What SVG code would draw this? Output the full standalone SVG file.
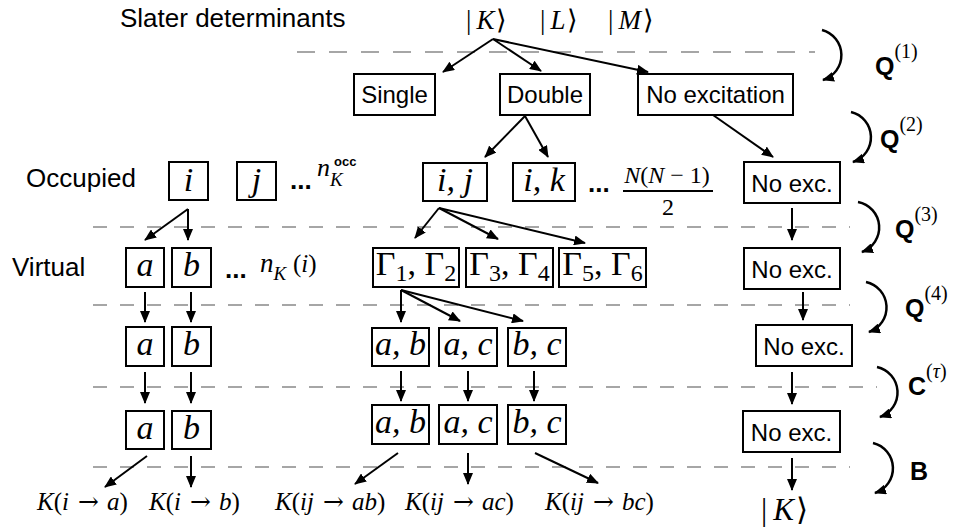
<svg xmlns="http://www.w3.org/2000/svg" width="955" height="531" viewBox="0 0 955 531">
<style>
.bg{fill:#fff}
.dash{stroke:#a6a6a6;stroke-width:2;stroke-dasharray:14 13;fill:none}
.box{fill:#fff;stroke:#000;stroke-width:2}
.sans{font-family:"Liberation Sans",Arial,sans-serif;fill:#000}
.lbl{font-family:"Liberation Sans",Arial,sans-serif;font-size:26px;fill:#000}
.bt{font-family:"Liberation Sans",Arial,sans-serif;font-size:24px;fill:#000;text-anchor:middle}
.m{font-family:"Liberation Serif","Times New Roman",serif;font-style:italic;font-size:34px;fill:#000;text-anchor:middle}
.up{font-style:normal}
.ser{font-family:"Liberation Serif","Times New Roman",serif;fill:#000}
.it{font-style:italic}
.arw{font-family:"DejaVu Serif",serif;font-style:normal}
.dots{font-family:"Liberation Sans",Arial,sans-serif;font-weight:bold;font-size:26px;fill:#000}
.q{font-family:"Liberation Sans",Arial,sans-serif;font-weight:bold;font-size:25px;fill:#000}
.sup{font-family:"Liberation Serif","Times New Roman",serif;font-weight:normal;font-size:20px}
.ar{stroke:#000;stroke-width:2;fill:none;marker-end:url(#ah)}
.cv{stroke:#000;stroke-width:2.5;fill:none;marker-end:url(#ah)}
</style>
<defs>
<marker id="ah" viewBox="0 0 12 10" refX="11" refY="5" markerWidth="12" markerHeight="10" markerUnits="userSpaceOnUse" orient="auto">
<path d="M0,0 L12,5 L0,10 z" fill="#000"/>
</marker>
</defs>
<rect class="bg" x="0" y="0" width="955" height="531"/>

<g id="separators">
<line class="dash" x1="297" y1="52" x2="815" y2="52" style="stroke-dasharray:18 14"/>
<line class="dash" x1="93" y1="227" x2="850" y2="227"/>
<line class="dash" x1="93" y1="305" x2="850" y2="305"/>
<line class="dash" x1="93" y1="387" x2="877" y2="387"/>
<line class="dash" x1="93" y1="467" x2="850" y2="467"/>
</g>

<g id="labels">
<text class="lbl" x="120" y="27">Slater determinants</text>
<text class="lbl" x="26" y="187">Occupied</text>
<text class="lbl" x="12" y="276">Virtual</text>
</g>

<g id="kets">
<text class="ser" font-size="27" x="466" y="29">|<tspan class="it" dx="5">K</tspan><tspan dx="2">⟩</tspan></text>
<text class="ser" font-size="27" x="540" y="29">|<tspan class="it" dx="5">L</tspan><tspan dx="2">⟩</tspan></text>
<text class="ser" font-size="27" x="608" y="29">|<tspan class="it" dx="5">M</tspan><tspan dx="2">⟩</tspan></text>
</g>

<g id="node-single"><rect class="box" x="354" y="74" width="81" height="41"/><text class="bt" x="394.5" y="103">Single</text></g>
<g id="node-double"><rect class="box" x="500" y="74" width="90" height="41"/><text class="bt" x="545" y="103">Double</text></g>
<g id="node-noexcitation"><rect class="box" x="638" y="74" width="155" height="41"/><text class="bt" x="715.5" y="103">No excitation</text></g>

<g id="node-i"><rect class="box" x="169" y="162" width="39" height="38"/><text class="m" x="188.5" y="191">i</text></g>
<g id="node-j"><rect class="box" x="237" y="162" width="39" height="38"/><text class="m" x="256.5" y="191">j</text></g>
<g id="nocc">
<text class="dots" x="290" y="189">...</text>
<text class="ser it" font-size="26" x="317" y="176">n<tspan font-size="19" dy="10">K</tspan></text>
<text class="sans" font-weight="bold" font-size="13" x="334" y="166">occ</text>
</g>

<g id="node-ij"><rect class="box" x="423" y="163" width="64" height="38"/><text class="m" x="455" y="191">i, j</text></g>
<g id="node-ik"><rect class="box" x="513" y="163" width="62" height="38"/><text class="m" x="544" y="191">i, k</text></g>
<g id="npairs">
<text class="dots" x="588" y="192">...</text>
<text class="ser" font-size="24" x="667" y="183" text-anchor="middle"><tspan class="it">N</tspan>(<tspan class="it">N</tspan> − 1)</text>
<line x1="623" y1="191" x2="713" y2="191" stroke="#000" stroke-width="2"/>
<text class="ser" font-size="24" x="668" y="215" text-anchor="middle">2</text>
</g>

<g id="node-noexc1"><rect class="box" x="744" y="162" width="96" height="41"/><text class="bt" x="792" y="192">No exc.</text></g>

<g id="node-a1"><rect class="box" x="126" y="248" width="38" height="39"/><text class="m" x="145" y="276">a</text></g>
<g id="node-b1"><rect class="box" x="172" y="248" width="39" height="39"/><text class="m" x="191.5" y="276">b</text></g>
<g id="nvirt">
<text class="dots" x="225" y="278">...</text>
<text class="ser it" font-size="27" x="260" y="272">n<tspan font-size="19" dy="8">K</tspan></text>
<text class="ser" font-size="25" x="293" y="272">(<tspan class="it">i</tspan>)</text>
</g>

<g id="node-g12"><rect class="box" x="373" y="248" width="86" height="39"/><text class="m up" x="416" y="275">Γ<tspan font-size="24" dy="6">1</tspan><tspan dy="-6">, Γ</tspan><tspan font-size="24" dy="6">2</tspan></text></g>
<g id="node-g34"><rect class="box" x="466" y="248" width="87" height="39"/><text class="m up" x="509.5" y="275">Γ<tspan font-size="24" dy="6">3</tspan><tspan dy="-6">, Γ</tspan><tspan font-size="24" dy="6">4</tspan></text></g>
<g id="node-g56"><rect class="box" x="559" y="248" width="87" height="39"/><text class="m up" x="602.5" y="275">Γ<tspan font-size="24" dy="6">5</tspan><tspan dy="-6">, Γ</tspan><tspan font-size="24" dy="6">6</tspan></text></g>

<g id="node-noexc2"><rect class="box" x="744" y="248" width="96" height="41"/><text class="bt" x="792" y="278">No exc.</text></g>

<g id="node-a2"><rect class="box" x="126" y="327" width="38" height="39"/><text class="m" x="145" y="355">a</text></g>
<g id="node-b2"><rect class="box" x="172" y="327" width="39" height="39"/><text class="m" x="191.5" y="355">b</text></g>
<g id="node-ab2"><rect class="box" x="372" y="328" width="57" height="38"/><text class="m" x="400.5" y="355">a, b</text></g>
<g id="node-ac2"><rect class="box" x="439" y="328" width="58" height="38"/><text class="m" x="468" y="355">a, c</text></g>
<g id="node-bc2"><rect class="box" x="508" y="328" width="58" height="38"/><text class="m" x="537" y="355">b, c</text></g>
<g id="node-noexc3"><rect class="box" x="756" y="325" width="96" height="41"/><text class="bt" x="804" y="355">No exc.</text></g>

<g id="node-a3"><rect class="box" x="126" y="411" width="38" height="38"/><text class="m" x="145" y="439">a</text></g>
<g id="node-b3"><rect class="box" x="172" y="411" width="39" height="38"/><text class="m" x="191.5" y="439">b</text></g>
<g id="node-ab3"><rect class="box" x="372" y="405" width="57" height="39"/><text class="m" x="400.5" y="433">a, b</text></g>
<g id="node-ac3"><rect class="box" x="439" y="405" width="58" height="39"/><text class="m" x="468" y="433">a, c</text></g>
<g id="node-bc3"><rect class="box" x="508" y="405" width="58" height="39"/><text class="m" x="537" y="433">b, c</text></g>
<g id="node-noexc4"><rect class="box" x="743" y="411" width="97" height="41"/><text class="bt" x="791.5" y="441">No exc.</text></g>

<g id="results">
<text class="ser" font-size="25" x="37" y="510"><tspan class="it">K</tspan>(<tspan class="it">i</tspan><tspan class="arw" dx="9">→</tspan><tspan class="it" dx="8">a</tspan>)</text>
<text class="ser" font-size="25" x="149" y="510"><tspan class="it">K</tspan>(<tspan class="it">i</tspan><tspan class="arw" dx="9">→</tspan><tspan class="it" dx="8">b</tspan>)</text>
<text class="ser" font-size="25" x="275" y="510"><tspan class="it">K</tspan>(<tspan class="it">ij</tspan><tspan class="arw" dx="9">→</tspan><tspan class="it" dx="8">ab</tspan>)</text>
<text class="ser" font-size="25" x="405" y="510"><tspan class="it">K</tspan>(<tspan class="it">ij</tspan><tspan class="arw" dx="9">→</tspan><tspan class="it" dx="8">ac</tspan>)</text>
<text class="ser" font-size="25" x="545" y="510"><tspan class="it">K</tspan>(<tspan class="it">ij</tspan><tspan class="arw" dx="9">→</tspan><tspan class="it" dx="8">bc</tspan>)</text>
<text class="ser" font-size="31" x="761" y="520">|<tspan class="it" dx="6">K</tspan><tspan dx="2">⟩</tspan></text>
</g>

<g id="operators">
<path class="cv" d="M822,30 A26,26 0 0 1 823,80"/>
<text class="q" x="875" y="75">Q<tspan class="sup" dy="-17">(1)</tspan></text>
<path class="cv" d="M851,112 A26,26 0 0 1 853,162"/>
<text class="q" x="880" y="148">Q<tspan class="sup" dy="-17">(2)</tspan></text>
<path class="cv" d="M858,202 A26,26 0 0 1 862,252"/>
<text class="q" x="895" y="238">Q<tspan class="sup" dy="-17">(3)</tspan></text>
<path class="cv" d="M866,282 A26,26 0 0 1 869,332"/>
<text class="q" x="905" y="317">Q<tspan class="sup" dy="-17">(4)</tspan></text>
<path class="cv" d="M877,367 A26,26 0 0 1 880,417"/>
<text class="q" x="908" y="395">C<tspan class="sup" dy="-17">(<tspan font-style="italic">τ</tspan>)</tspan></text>
<path class="cv" d="M873,443 A26,26 0 0 1 875,493"/>
<text class="q" x="910" y="480">B</text>
</g>

<g id="connectors">
<line class="ar" x1="493" y1="39" x2="443" y2="72"/>
<line class="ar" x1="493" y1="39" x2="541" y2="71"/>
<line class="ar" x1="493" y1="39" x2="648" y2="72"/>
<line class="ar" x1="525" y1="116" x2="485" y2="157"/>
<line class="ar" x1="525" y1="116" x2="548" y2="157"/>
<line class="ar" x1="713" y1="115" x2="773" y2="157"/>
<line class="ar" x1="188" y1="209" x2="145" y2="240"/>
<line class="ar" x1="188" y1="209" x2="188" y2="240"/>
<line class="ar" x1="439" y1="208" x2="415" y2="238"/>
<line class="ar" x1="439" y1="208" x2="498" y2="239"/>
<line class="ar" x1="439" y1="208" x2="585" y2="243"/>
<line class="ar" x1="792" y1="208" x2="792" y2="240"/>
<line class="ar" x1="145" y1="292" x2="145" y2="322"/>
<line class="ar" x1="191" y1="292" x2="191" y2="322"/>
<line class="ar" x1="401" y1="290" x2="401" y2="322"/>
<line class="ar" x1="401" y1="290" x2="460" y2="321"/>
<line class="ar" x1="401" y1="290" x2="523" y2="321"/>
<line class="ar" x1="803" y1="292" x2="803" y2="320"/>
<line class="ar" x1="145" y1="372" x2="145" y2="403"/>
<line class="ar" x1="191" y1="372" x2="191" y2="403"/>
<line class="ar" x1="401" y1="371" x2="401" y2="401"/>
<line class="ar" x1="468" y1="371" x2="468" y2="401"/>
<line class="ar" x1="534" y1="371" x2="534" y2="401"/>
<line class="ar" x1="792" y1="372" x2="792" y2="404"/>
<line class="ar" x1="147" y1="456" x2="105" y2="487"/>
<line class="ar" x1="191" y1="456" x2="191" y2="487"/>
<line class="ar" x1="398" y1="453" x2="355" y2="484"/>
<line class="ar" x1="468" y1="453" x2="468" y2="484"/>
<line class="ar" x1="535" y1="453" x2="598" y2="483"/>
<line class="ar" x1="792" y1="458" x2="792" y2="490"/>
</g>
</svg>
